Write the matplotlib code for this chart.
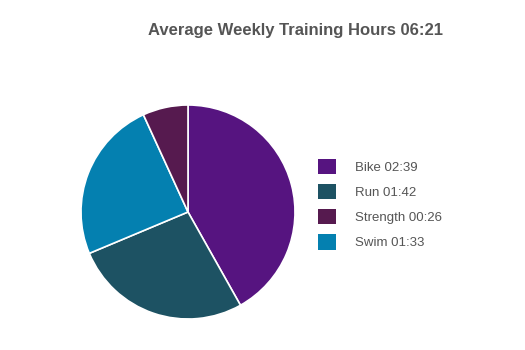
import matplotlib.pyplot as plt
from matplotlib.patches import Patch

plt.rcParams['font.family'] = ['Liberation Sans', 'DejaVu Sans']

# minutes per week
labels = ['Bike 02:39', 'Run 01:42', 'Strength 00:26', 'Swim 01:33']
minutes = [159, 102, 26, 93]
colors = ['#561480', '#1D5263', '#561A4F', '#0480B0']
# drawing order clockwise from the top
order = [0, 1, 3, 2]

fig = plt.figure(figsize=(5.25, 3.5), dpi=100)
W, H = 525, 350
cx, cy, r = 188, 212, 107
ax = fig.add_axes([(cx - r) / W, (H - cy - r) / H, 2 * r / W, 2 * r / H])
ax.pie([minutes[i] for i in order], colors=[colors[i] for i in order],
       startangle=90, counterclock=False, radius=1,
       wedgeprops=dict(edgecolor='white', linewidth=1.2))
ax.set_xlim(-1, 1)
ax.set_ylim(-1, 1)
ax.set_aspect('equal')

fig.text(296 / W, 1 - 31 / H, 'Average Weekly Training Hours 06:21',
         ha='center', va='center', fontsize=12, fontweight='bold', color='#555555')

handles = [Patch(facecolor=c, edgecolor='none') for c in colors]
fig.legend(handles, labels, loc='upper left', bbox_to_anchor=(306 / W, 1 - 147 / H),
           frameon=False, fontsize=9.5, labelcolor='#555555',
           handlelength=1.4, handleheight=1.4, handletextpad=1.45, labelspacing=0.75)

fig.savefig('out.png', dpi=100, facecolor='white')
